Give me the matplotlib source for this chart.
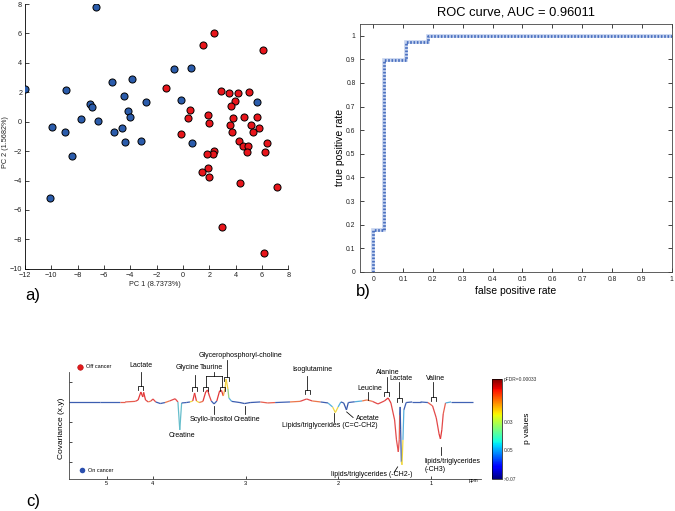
import numpy as np
import matplotlib
matplotlib.use("Agg")
import matplotlib.pyplot as plt
from matplotlib.collections import LineCollection
from matplotlib.cm import ScalarMappable
from matplotlib.colors import Normalize, LinearSegmentedColormap

plt.rcParams['font.family'] = ['Liberation Sans', 'DejaVu Sans']

# ---- a) PCA scores ----
on_pc1 = [-12.0, -6.61, -8.91, -9.97, -8.99, -8.43, -10.10, -7.75, -7.06, -6.89, -6.43,
          -5.42, -5.27, -4.66, -4.48, -4.41, -4.20, -4.00, -3.87, -2.81, -3.19, -0.66,
          0.58, -0.18, 0.68, 5.62]
on_pc2 = [2.23, 7.77, 2.16, -0.37, -0.73, -2.32, -5.21, 0.17, 1.19, 0.99, 0.08,
          2.68, -0.73, -0.44, 1.78, -1.39, 0.74, 0.31, 2.93, 1.37, -1.28, 3.59,
          3.66, 1.46, -1.48, 1.37]
off_pc1 = [2.35, 1.49, 6.10, -1.29, 2.86, 3.47, 4.15, 4.99, 3.97, 3.62, 0.51, 1.92, 0.35,
           3.77, 4.66, 5.65, 1.95, 3.57, 5.16, 5.77, -0.15, 3.70, 5.34, 4.28, 4.56, 4.91,
           6.38, 4.89, 6.20, 2.33, 2.25, 1.85, 1.87, 1.47, 1.95, 4.35, 7.11, 2.99, 6.18]
off_pc2 = [6.05, 5.24, 4.90, 2.28, 2.10, 1.98, 1.94, 2.05, 1.44, 1.10, 0.83, 0.47, 0.26,
           0.24, 0.31, 0.35, -0.10, -0.21, -0.24, -0.44, -0.82, -0.71, -0.71, -1.32, -1.64,
           -1.66, -1.43, -2.05, -2.07, -2.02, -2.20, -2.18, -3.15, -3.43, -3.79, -4.15,
           -4.44, -7.14, -8.92]

# ---- b) ROC ----
fpr = [0, 0, 0.037, 0.037, 0.111, 0.111, 0.185, 0.185, 1.0]
tpr = [0, 0.179, 0.179, 0.897, 0.897, 0.974, 0.974, 1.0, 1.0]

# ---- c) covariance spectrum (ppm, covariance, significance level 0=blue 1=red) ----
spec_ppm = [5.41, 5.07, 4.36, 4.30, 4.19, 4.16, 4.13, 4.11, 4.10, 4.08, 4.05, 4.02, 4.00,
            3.97, 3.92, 3.87, 3.82, 3.76, 3.73, 3.71, 3.69, 3.64, 3.60, 3.57, 3.55, 3.53,
            3.50, 3.46, 3.43, 3.41, 3.39, 3.37, 3.34, 3.31, 3.28, 3.26, 3.24, 3.22, 3.21,
            3.19, 3.18, 3.15, 3.06, 3.01, 2.95, 2.84, 2.76, 2.68, 2.52, 2.41, 2.34, 2.28,
            2.19, 2.11, 2.06, 2.03, 2.00, 1.97, 1.94, 1.91, 1.89, 1.82, 1.74, 1.69, 1.63,
            1.57, 1.50, 1.46, 1.43, 1.39, 1.37, 1.35, 1.34, 1.335, 1.33, 1.325, 1.317, 1.31,
            1.30, 1.29, 1.265, 1.20, 1.11, 1.03, 0.98, 0.94, 0.91, 0.895, 0.88, 0.865, 0.84,
            0.78, 0.54]
spec_cov = [0, 0, 0, 0, 0.03, 0.10, 0.50, 0.25, 0.48, 0.10, 0, 0.05, 0.15,
            0, -0.08, -0.03, 0.05, 0.16, 0, -1.40, -0.05, -0.03, 0, 0.05, 0.45, 0.05,
            -0.03, 0.03, 0.50, 0.60, 0.30, 0.05, -0.10, 0.05, 0.55, 0.58, 0.30, 0.70, 1.15,
            0.65, 0.20, 0.03, -0.03, -0.08, -0.03, 0, -0.05, -0.03, 0, 0.03, 0.15, 0.05,
            0, -0.05, -0.25, -0.53, -0.25, 0, -0.05, -0.40, -0.03, 0.01, 0.05, 0.10, 0.03,
            -0.10, 0.05, 0.20, -0.05, -0.90, -1.90, -2.50, -1.90, -0.65, -0.25, -1.40, -3.00, -3.15,
            -1.90, -0.40, -0.03, 0, 0, -0.03, -0.20, -0.80, -1.60, -1.85, -1.40, -0.60, -0.05,
            0, 0]
spec_lev = [0.08, 0.08, 0.1, 0.85, 0.85, 0.9, 0.95, 0.95, 0.95, 0.9, 0.7, 0.8, 0.9,
            0.6, 0.08, 0.1, 0.8, 0.9, 0.1, 0.35, 0.1, 0.08, 0.1, 0.6, 0.95, 0.6,
            0.08, 0.8, 0.95, 0.95, 0.9, 0.6, 0.08, 0.6, 0.95, 0.95, 0.85, 0.7, 0.62,
            0.45, 0.3, 0.08, 0.08, 0.05, 0.08, 0.1, 0.85, 0.1, 0.1, 0.8, 0.9, 0.8,
            0.3, 0.08, 0.3, 0.6, 0.3, 0.08, 0.08, 0.05, 0.1, 0.1, 0.3, 0.8, 0.85,
            0.9, 0.9, 0.95, 0.85, 0.9, 0.9, 0.88, 0.85, 0.1, 0.05, 0.05, 0.05, 0.6,
            0.3, 0.1, 0.08, 0.08, 0.1, 0.1, 0.85, 0.9, 0.9, 0.95, 0.9, 0.85, 0.3,
            0.1, 0.1]

ppm_ticks = [5, 4, 3, 2, 1]
cbar_ticks = [0, 0.29, 0.57, 1]
cbar_labels = ['>0.07', '0.05', '0.03', 'pFDR=0.00033']

# softer jet-like map for the thin spectrum line
line_cmap = LinearSegmentedColormap.from_list(
    'soft_jet', [(0.0, '#2c4a9e'), (0.15, '#4a6fc0'), (0.32, '#58b8e0'),
                 (0.5, '#a8d860'), (0.6, '#f0d840'), (0.75, '#f09048'),
                 (0.88, '#e45050'), (1.0, '#e02828')])


def to_pos(ppm):
    # water region 4.5-5.0 ppm is cut out of the axis
    ppm = np.asarray(ppm, float)
    return np.where(ppm >= 4.75, 4.5 - ppm, 4.0 - ppm)


fig = plt.figure(figsize=(6.75, 5.11), dpi=100)

# ---------------- a) ----------------
ax1 = fig.add_axes([0.037, 0.474, 0.390, 0.518])
ax1.scatter(on_pc1, on_pc2, s=26, c='#2b5cab', edgecolors='black', linewidths=0.7, zorder=3)
ax1.scatter(off_pc1, off_pc2, s=26, c='#e8151b', edgecolors='black', linewidths=0.7, zorder=3)
ax1.set_xlim(-12, 8)
ax1.set_ylim(-10, 8)
ax1.set_xticks(range(-12, 9, 2))
ax1.set_yticks(range(-10, 9, 2))
ax1.spines['top'].set_visible(False)
ax1.spines['right'].set_visible(False)
ax1.tick_params(direction='in', length=3, width=0.6, labelsize=5.2, colors='#222222', pad=2)
for s in ax1.spines.values():
    s.set_linewidth(0.6)
ax1.set_xlabel('PC 1 (8.7373%)', fontsize=5.2, color='#222222')
ax1.set_ylabel('PC 2 (1.5682%)', fontsize=5.2, color='#222222')
ax1.xaxis.set_label_coords(0.494, -0.047)
ax1.yaxis.set_label_coords(-0.062, 0.48)

# ---------------- b) ----------------
ax2 = fig.add_axes([0.533, 0.468, 0.462, 0.486])
ax2.plot(fpr, tpr, color='#c4d2ee', lw=2.6, solid_joinstyle='miter')
ax2.plot(fpr, tpr, color='#4a70c0', lw=2.0, ls=(0, (0.6, 0.6)))
ax2.set_xlim(-0.045, 1.0)
ax2.set_ylim(0, 1.052)
ax2.set_xticks(np.arange(0, 1.01, 0.1))
ax2.set_yticks(np.arange(0, 1.01, 0.1))
ax2.set_xticklabels(['0', '0.1', '0.2', '0.3', '0.4', '0.5', '0.6', '0.7', '0.8', '0.9', '1'])
ax2.set_yticklabels(['0', '0.1', '0.2', '0.3', '0.4', '0.5', '0.6', '0.7', '0.8', '0.9', '1'])
ax2.tick_params(direction='in', length=3, width=0.6, labelsize=4.9, colors='#222222', pad=3,
                top=True, right=True)
for s in ax2.spines.values():
    s.set_linewidth(0.6)
    s.set_color('#444444')
ax2.set_xlabel('false positive rate', fontsize=7.5)
ax2.set_ylabel('true positive rate', fontsize=7.5)
ax2.xaxis.set_label_coords(0.5, -0.056)
ax2.yaxis.set_label_coords(-0.047, 0.5)
ax2.text(0.5, 1.043, 'ROC curve, AUC = 0.96011', transform=ax2.transAxes,
         ha='center', va='center', fontsize=9.3)

# ---------------- c) ----------------
ax3 = fig.add_axes([0.102, 0.063, 0.611, 0.209])
pts = np.column_stack([to_pos(spec_ppm), spec_cov])
segs = np.stack([pts[:-1], pts[1:]], axis=1)
lev = np.asarray(spec_lev)
cov = np.abs(np.asarray(spec_cov))
seg_lev = np.where(cov[1:] >= cov[:-1], lev[1:], lev[:-1])
lc = LineCollection(segs, cmap=line_cmap, norm=Normalize(0, 1), linewidths=0.9)
lc.set_array(seg_lev)
ax3.add_collection(lc)
ax3.set_xlim(-0.908, 3.546)
ax3.set_ylim(-3.85, 1.5)
ax3.set_xticks(to_pos(ppm_ticks))
ax3.set_xticklabels([str(t) for t in ppm_ticks])
ax3.set_yticks([1, 0, -1, -2, -3])
ax3.set_yticklabels([])
ax3.spines['top'].set_visible(False)
ax3.spines['right'].set_visible(False)
for s in ax3.spines.values():
    s.set_linewidth(0.6)
    s.set_color('#444444')
ax3.tick_params(direction='in', length=2.5, width=0.5, labelsize=4, pad=1.5)
ax3.set_ylabel('Covariance (x,y)', fontsize=6)
ax3.yaxis.set_label_coords(-0.010, 0.477)
ax3.text(3.46, -3.95, 'ppm', fontsize=3.5, ha='center', va='center', clip_on=False)

ax3.plot([0.028], [1.05], 'o', color='#e31a1c', ms=4, mec='#b01010', mew=0.4,
         transform=ax3.transAxes, clip_on=False)
ax3.text(0.041, 1.05, 'Off cancer', fontsize=4, va='center', transform=ax3.transAxes)
ax3.plot([0.033], [0.078], 'o', color='#2b4fae', ms=4, mew=0,
         transform=ax3.transAxes, clip_on=False)
ax3.text(0.046, 0.078, 'On cancer', fontsize=4, va='center', transform=ax3.transAxes)

BW, LEG = 0.027, 0.2
afs = 5.0


def bracket(x, y_top, y_bot, with_bracket=True):
    ax3.plot([x, x], [y_top, y_bot], color='black', lw=0.55, clip_on=False)
    if with_bracket:
        ax3.plot([x - BW, x - BW, x + BW, x + BW], [y_bot - LEG, y_bot, y_bot, y_bot - LEG],
                 color='black', lw=0.55, clip_on=False)


def label(txt, ppm, y, ha='center'):
    ax3.text(float(to_pos(ppm)), y, txt, fontsize=afs, ha=ha, va='center', clip_on=False)


# peaks above baseline
label('Lactate', 4.13, 1.85)
bracket(float(to_pos(4.133)), 1.5, 0.8)
label('Glycine', 3.627, 1.72)
bracket(float(to_pos(3.546)), 1.35, 0.77)
label('Taurine', 3.365, 1.72)
ax3.plot([0.659, 0.659], [1.5, 1.3], color='black', lw=0.55)
ax3.plot([0.568, 0.749], [1.3, 1.3], color='black', lw=0.55)
bracket(0.568, 1.3, 0.77)
bracket(0.749, 1.3, 0.77)
label('Glycerophosphoryl-choline', 3.054, 2.35)
bracket(float(to_pos(3.203)), 2.1, 1.27)
label('Isoglutamine', 2.276, 1.63)
bracket(float(to_pos(2.332)), 1.3, 0.6)
label('Alanine', 1.463, 1.47)
bracket(float(to_pos(1.474)), 1.25, 0.52)
label('Lactate', 1.319, 1.18)
bracket(float(to_pos(1.341)), 1.02, 0.2)
label('Valine', 0.951, 1.18)
bracket(float(to_pos(0.970)), 1.02, 0.27)
label('Leucine', 1.662, 0.65)
bracket(float(to_pos(1.679)), 0.48, 0.1, with_bracket=False)

# peaks below baseline
label('Scyllo-inositol', 3.365, -0.9)
bracket(float(to_pos(3.337)), -0.2, -0.62, with_bracket=False)
label('Creatine', 2.987, -0.9)
bracket(float(to_pos(3.005)), -0.2, -0.6, with_bracket=False)
label('Creatine', 3.69, -1.68)
label('Lipids/triglycerides (C=C-CH2)', 2.086, -1.2)
bracket(float(to_pos(2.04)), -0.55, -0.98, with_bracket=False)
label('Acetate', 1.676, -0.85)
ax3.plot(to_pos([1.908, 1.838]), [-0.5, -0.78], color='black', lw=0.55)
label('lipids/triglycerides (-CH2-)', 1.636, -3.65)
ax3.plot(to_pos([1.395, 1.357]), [-3.53, -3.25], color='black', lw=0.55, clip_on=False)
label('lipids/triglycerides\n(-CH3)', 1.07, -3.19, ha='left')
bracket(float(to_pos(0.89)), -2.25, -2.65, with_bracket=False)

# colour bar
cax = fig.add_axes([0.729, 0.063, 0.015, 0.195])
cb = fig.colorbar(ScalarMappable(norm=Normalize(0, 1), cmap='jet'), cax=cax)
cb.set_ticks(cbar_ticks)
cb.set_ticklabels(cbar_labels)
cb.outline.set_linewidth(0.5)
cax.tick_params(length=0, labelsize=3.5, pad=1, colors='#333333')
cax.text(3.45, 0.51, 'p values', rotation=90, fontsize=6, ha='center', va='center',
         transform=cax.transAxes)

fig.text(0.049, 0.421, 'a)', fontsize=12, ha='center', va='center')
fig.text(0.539, 0.429, 'b)', fontsize=12, ha='center', va='center')
fig.text(0.049, 0.019, 'c)', fontsize=12, ha='center', va='center')

fig.savefig('out.png', dpi=100)
